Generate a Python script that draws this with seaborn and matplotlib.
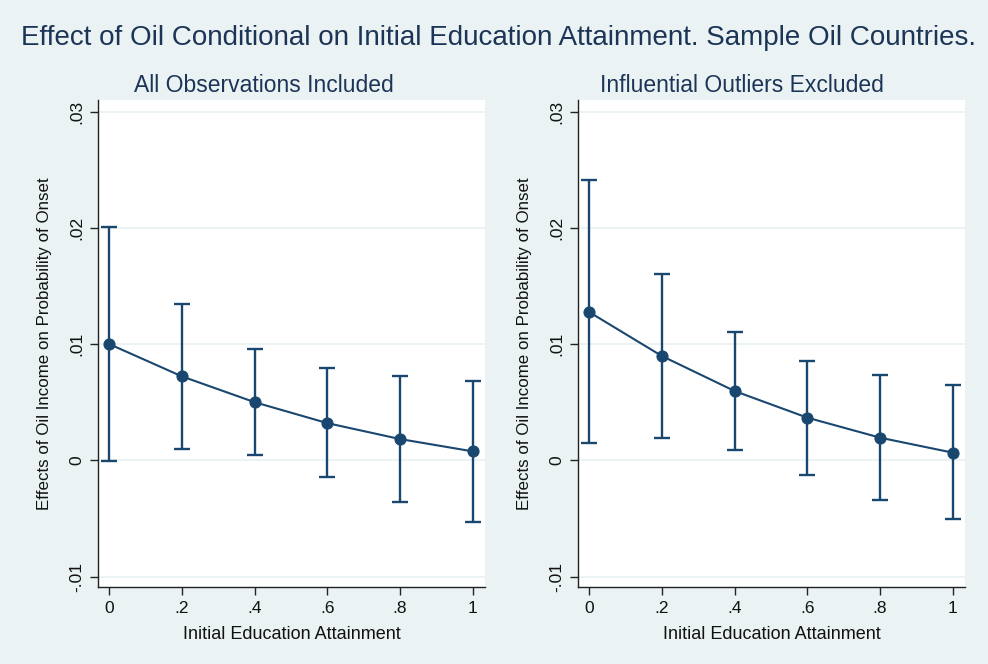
import matplotlib
matplotlib.use("Agg")
import matplotlib.pyplot as plt
import seaborn as sns
import pandas as pd

education = [0, 0.2, 0.4, 0.6, 0.8, 1.0]

all_est = [0.0100, 0.00722, 0.0050, 0.0032, 0.00183, 0.00077]
all_hi = [0.0201, 0.01347, 0.0096, 0.00794, 0.00725, 0.0068]
all_lo = [-0.0001, 0.00097, 0.00046, -0.00146, -0.0036, -0.0053]

excl_est = [0.01275, 0.00897, 0.00596, 0.00367, 0.00195, 0.00066]
excl_hi = [0.0241, 0.0160, 0.0110, 0.00857, 0.0073, 0.00648]
excl_lo = [0.00146, 0.00192, 0.00086, -0.00129, -0.0034, -0.00505]

yticks = [-0.01, 0, 0.01, 0.02, 0.03]
ytick_labels = ["-.01", "0", ".01", ".02", ".03"]
xticks = [0, 0.2, 0.4, 0.6, 0.8, 1.0]
xtick_labels = ["0", ".2", ".4", ".6", ".8", "1"]

panel_titles = ["All Observations Included", "Influential Outliers Excluded"]
suptitle = "Effect of Oil Conditional on Initial Education Attainment. Sample Oil Countries."
xlabel = "Initial Education Attainment"
ylabel = "Effects of Oil Income on Probability of Onset"

sns.set_theme(style="white")
plt.rcParams["font.family"] = ["Liberation Sans", "DejaVu Sans"]

BG = "#eaf2f3"
NAVY = "#1a476f"
TXT = "#1c3557"

fig = plt.figure(figsize=(9.88, 6.64), dpi=100, facecolor=BG)

panels = [(all_est, all_lo, all_hi), (excl_est, excl_lo, excl_hi)]
lefts = [98 / 988, 578 / 988]
title_centers = [264, 742]
for i, (est, lo, hi) in enumerate(panels):
    ax = fig.add_axes([lefts[i], 1 - 587 / 664, 387 / 988, 487 / 664])
    ax.set_facecolor("white")
    df = pd.DataFrame({"x": education, "y": est, "lo": lo, "hi": hi})
    for yv in yticks:
        ax.axhline(yv, color=BG, lw=1.3, zorder=0)
    ax.errorbar(df["x"], df["y"], yerr=[df["y"] - df["lo"], df["hi"] - df["y"]],
                fmt="none", ecolor=NAVY, elinewidth=1.7, capsize=6, capthick=1.7, zorder=2)
    sns.lineplot(data=df, x="x", y="y", ax=ax, color=NAVY, lw=1.5, marker="o",
                 markersize=8, markeredgecolor=NAVY, markerfacecolor=NAVY, zorder=3)
    ax.set_xlim(-0.031, 1.034)
    ax.set_ylim(-0.0109, 0.031)
    ax.set_xticks(xticks)
    ax.set_xticklabels(xtick_labels)
    ax.set_yticks(yticks)
    ax.set_yticklabels(ytick_labels, rotation=90, va="center")
    for s in ["top", "right"]:
        ax.spines[s].set_visible(False)
    for s in ["left", "bottom"]:
        ax.spines[s].set_color("#222222")
        ax.spines[s].set_linewidth(1.0)
    ax.tick_params(axis="both", which="major", length=6, width=1, color="#222222",
                   labelsize=12.5, labelcolor="#111111", direction="out", left=True, bottom=True)
    ax.tick_params(axis="x", pad=4)
    ax.tick_params(axis="y", pad=4)
    ax.set_xlabel(xlabel, fontsize=13, color="#111111", labelpad=7)
    ax.set_ylabel(ylabel, fontsize=12.2, color="#111111", labelpad=12.5)
    ax.set_title(panel_titles[i], fontsize=16.5, color=TXT, pad=6,
                 x=(title_centers[i] - lefts[i] * 988) / 387)

fig.text(498.5 / 988, 1 - 38 / 664, suptitle, ha="center", va="center", fontsize=20,
         color=TXT)

fig.savefig("out.png", dpi=100, facecolor=BG)
